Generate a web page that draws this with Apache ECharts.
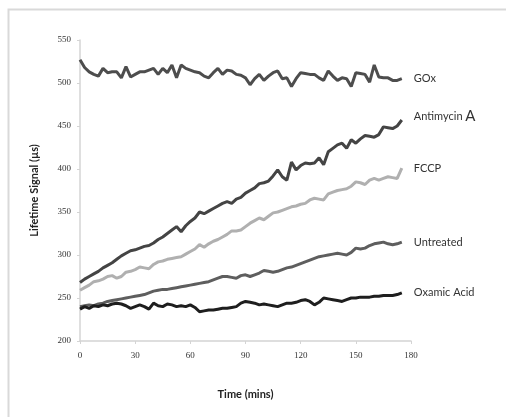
<!DOCTYPE html>
<html>
<head>
<meta charset="utf-8">
<script src="https://cdn.jsdelivr.net/npm/echarts@6/dist/echarts.min.js"></script>
<style>
  html, body { margin: 0; padding: 0; background: #fff; }
  #chart { width: 506px; height: 417px; }
</style>
</head>
<body>
<div id="chart"></div>
<script>
// 时间点 (mins), 每 2.5 分钟一个点
const times = [0,2.5,5,7.5,10,12.5,15,17.5,20,22.5,25,27.5,30,32.5,35,37.5,40,42.5,45,47.5,
  50,52.5,55,57.5,60,62.5,65,67.5,70,72.5,75,77.5,80,82.5,85,87.5,90,92.5,95,97.5,
  100,102.5,105,107.5,110,112.5,115,117.5,120,122.5,125,127.5,130,132.5,135,137.5,140,142.5,145,147.5,
  150,152.5,155,157.5,160,162.5,165,167.5,170,172.5,175]

const gox = [527,518,513,510,508,517,512,513,513,506,519,507,510,513,513,515,517,510,517,512,
  521,506,521,517,515,513,512,508,506,512,517,510,515,514,510,509,506,498,505,510,
  503,508,512,514,505,506,496,505,512,511,510,510,506,503,514,508,503,506,505,496,
  512,511,510,501,521,507,506,506,503,503,505]

const antimycin = [268,272,275,278,281,285,288,291,295,299,302,305,306,308,310,311,314,318,321,325,
  329,333,327,334,339,343,350,348,351,354,357,360,362,360,365,367,372,375,378,383,
  384,386,392,399,391,387,408,399,404,407,406,407,413,405,420,424,428,430,424,434,
  430,435,439,438,437,440,449,448,447,450,457]

const fccp = [259,262,265,269,270,272,275,276,273,275,280,281,283,286,285,284,289,292,293,295,
  296,297,298,301,304,307,312,309,313,316,318,321,324,328,328,329,333,337,340,343,
  341,345,349,350,352,354,356,357,359,360,364,366,365,364,371,373,375,376,377,380,
  385,384,382,387,389,387,389,391,390,389,401]

const untreated = [240,241,242,241,243,244,246,247,248,249,250,251,252,253,254,256,258,259,260,260,
  261,262,263,264,265,266,267,268,269,271,273,275,275,274,273,276,277,275,277,279,
  282,281,280,281,283,285,286,288,290,292,294,296,298,299,300,301,302,301,300,303,
  308,307,308,311,313,314,315,313,312,313,315]

const oxamic = [237,240,238,241,240,242,241,243,244,243,241,238,240,242,240,237,244,241,240,243,
  242,240,241,240,242,239,234,235,236,236,237,238,238,239,240,244,246,245,244,242,
  243,242,241,240,242,244,244,245,247,248,246,242,245,250,249,248,247,246,248,250,
  250,251,251,251,252,252,253,253,253,254,256]

const xTicks = [0, 30, 60, 90, 120, 150, 180]
const yTicks = [200, 250, 300, 350, 400, 450, 500, 550]

let myChart = echarts.init(document.getElementById('chart'))

function pairs(vals) {
  return times.map((t, i) => [t, vals[i]])
}

function makeSeries(name, vals, color, label, offset) {
  return {
    name: name,
    type: 'line',
    data: pairs(vals),
    showSymbol: false,
    smooth: false,
    lineStyle: { width: 3, color: color },
    itemStyle: { color: color },
    endLabel: {
      show: true,
      formatter: label,
      distance: 12,
      offset: offset || [0, 0],
      color: '#333',
      fontFamily: 'Lato',
      fontSize: 11,
      rich: {
        big: { fontFamily: 'Lato', fontSize: 15, color: '#333' }
      }
    }
  }
}

myChart.setOption({
  animation: false,
  backgroundColor: '#fff',
  graphic: [{
    type: 'rect',
    left: 6, top: 7,
    shape: { width: 500, height: 415 },
    style: { fill: 'none', stroke: '#d9d9d9', lineWidth: 2 },
    silent: true
  }],
  grid: { left: 80, right: 95, top: 40, bottom: 76 },
  xAxis: {
    type: 'value',
    min: 0, max: 180, interval: 30,
    name: 'Time (mins)',
    nameLocation: 'middle',
    nameGap: 48,
    nameTextStyle: { fontFamily: 'Lato', fontWeight: 'bold', fontSize: 11, color: '#222' },
    axisLine: { lineStyle: { color: '#d4d4d4', width: 1.5 } },
    axisTick: { show: true, length: 3, lineStyle: { color: '#d4d4d4' } },
    axisLabel: {
      margin: 10, fontSize: 9, color: '#333', fontFamily: 'Liberation Serif',
      formatter: v => xTicks.includes(v) ? String(v) : ''
    },
    splitLine: { show: false }
  },
  yAxis: {
    type: 'value',
    min: 200, max: 550, interval: 50,
    name: 'Lifetime Signal (µs)',
    nameLocation: 'middle',
    nameGap: 40,
    nameTextStyle: { fontFamily: 'Lato', fontWeight: 'bold', fontSize: 11, color: '#222' },
    axisLine: { show: true, lineStyle: { color: '#d4d4d4', width: 1.5 } },
    axisTick: { show: true, length: 3, lineStyle: { color: '#d4d4d4' } },
    axisLabel: {
      margin: 9, fontSize: 9, color: '#333', fontFamily: 'Liberation Serif',
      formatter: v => yTicks.includes(v) ? String(v) : ''
    },
    splitLine: { show: false }
  },
  series: [
    makeSeries('GOx', gox, '#4d4d4d', 'GOx'),
    makeSeries('Antimycin A', antimycin, '#444444', 'Antimycin {big|A}', [0, -4]),
    makeSeries('FCCP', fccp, '#b0b0b0', 'FCCP'),
    makeSeries('Untreated', untreated, '#5e5e5e', 'Untreated'),
    makeSeries('Oxamic Acid', oxamic, '#1e1e1e', 'Oxamic Acid')
  ]
})
</script>
</body>
</html>
